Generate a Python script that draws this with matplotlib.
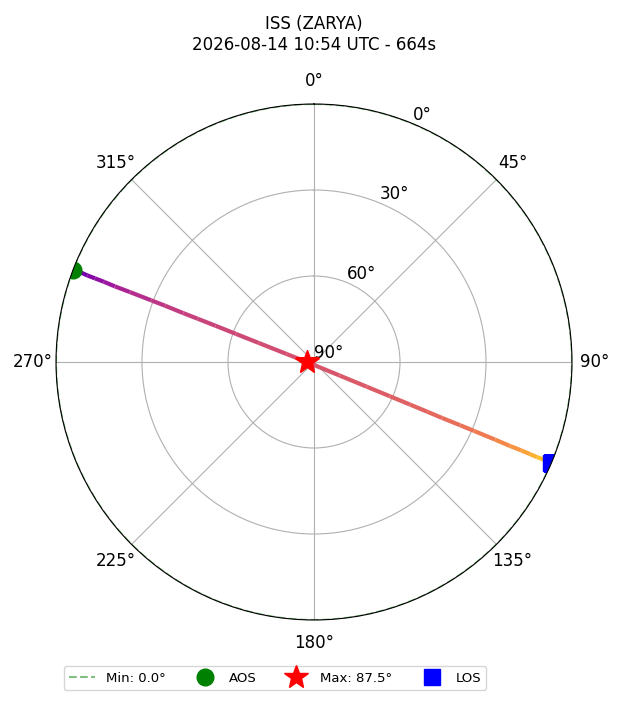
import numpy as np
import matplotlib
matplotlib.use('Agg')
import matplotlib.pyplot as plt
from matplotlib.collections import LineCollection
from matplotlib.colors import Normalize

# pass of ISS (ZARYA), seconds since AOS
sat_name = 'ISS (ZARYA)'
pass_start = '2026-08-14 10:54 UTC'
pass_len = 664
min_el = 0.0

times = [0, 32, 62, 92, 122, 152, 182, 212, 242, 257, 272, 282, 292, 302, 312, 322,
         332,
         342, 352, 362, 372, 382, 392, 407, 422, 452, 482, 512, 542, 572, 602, 632, 664]
azimuth = [291.0, 291.0, 291.0, 290.9, 290.9, 290.9, 290.8, 290.8, 290.75, 290.7, 290.5,
           290.4, 290.2, 289.8, 289.0, 286.3,
           270.0,
           117.9, 115.1, 114.3, 113.9, 113.7, 113.6, 113.4, 113.3, 113.2, 113.2, 113.1,
           113.1, 113.1, 113.0, 113.0, 113.0]
elevation = [0.0, 0.8, 3.0, 5.4, 8.2, 11.5, 15.7, 21.3, 29.2, 34.5, 41.3, 46.8, 53.4,
             61.0, 69.7, 80.0,
             87.5,
             80.0, 69.7, 61.0, 53.4, 46.8, 41.3, 34.5, 29.2, 21.3, 15.7, 11.5, 8.2,
             5.4, 3.0, 0.8, 0.0]

r_ticks = [0, 30, 60, 90]
r_labels = ['90°', '60°', '30°', '0°']

theta = np.radians(azimuth)
r = 90 - np.array(elevation)
t = np.array(times)

fig = plt.figure(figsize=(6.2, 7.02), dpi=100)
ax = fig.add_axes([56 / 620, 82 / 702, 516 / 620, 516 / 702], projection='polar')
ax.set_theta_zero_location('N')
ax.set_theta_direction(-1)

# horizon / min elevation ring
ring = np.linspace(0, 2 * np.pi, 361)
ax.plot(ring, [90 - min_el] * len(ring), 'g--', alpha=0.5, lw=1.5,
        label=f'Min: {min_el:.1f}°')

# track coloured by time
pts = np.column_stack([theta, r]).reshape(-1, 1, 2)
segs = np.concatenate([pts[:-1], pts[1:]], axis=1)
mid_t = (t[:-1] + t[1:]) / 2
lc = LineCollection(segs, cmap='plasma', norm=Normalize(-110, 700), linewidth=3)
lc.set_array(mid_t)
ax.add_collection(lc)

imax = int(np.argmax(elevation))
ax.plot(theta[0], r[0], 'o', color='green', markersize=12, label='AOS')
ax.plot(theta[imax], r[imax], '*', color='red', markersize=18,
        label=f'Max: {elevation[imax]:.1f}°')
ax.plot(theta[-1], r[-1], 's', color='blue', markersize=12, label='LOS')

ax.set_ylim(0, 90)
ax.set_yticks(r_ticks)
ax.set_yticklabels(r_labels)
ax.tick_params(labelsize=12)
ax.tick_params(axis='x', pad=6)
ax.grid(True)

ax.set_title(f'{sat_name}\n{pass_start} - {pass_len}s', fontsize=12, pad=16)
ax.legend(loc='center', bbox_to_anchor=(275 / 620, 1 - 678 / 702),
          bbox_transform=fig.transFigure, ncol=4, fontsize=9.5)

fig.savefig('out.png', dpi=100)
